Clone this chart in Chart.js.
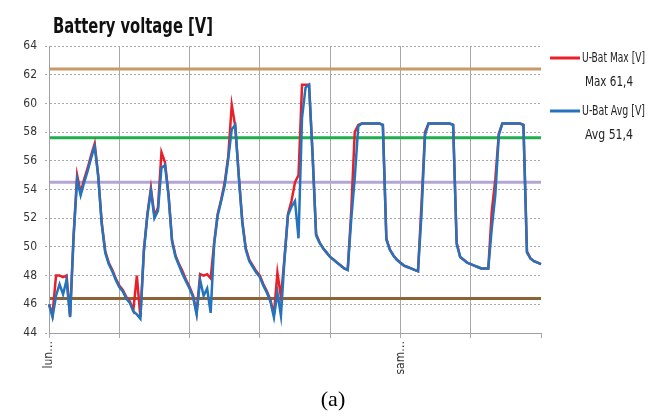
<!DOCTYPE html>
<html>
<head>
<meta charset="utf-8">
<script src="https://cdn.jsdelivr.net/npm/chart.js@4/dist/chart.umd.min.js"></script>
<style>
  html, body { margin: 0; padding: 0; background: #fff; }
  #wrap { width: 664px; height: 418px; position: relative; }
</style>
</head>
<body>
<div id="wrap"><canvas id="batteryChart"></canvas></div>
<script>
// one sample every ~1.2 h, 20 samples per day
const pointsPerDay = 20;
const dayLabels = ["lun…", "", "", "", "", "sam…", "", ""];

const maxV = [
  46.0, 45.3, 48.0, 48.0, 47.9, 48.0, 45.2, 50.8, 55.0, 53.8,
  54.7, 55.5, 56.4, 57.2, 55.0, 51.7, 49.7, 48.9, 48.4, 47.8,
  47.3, 47.0, 46.5, 46.2, 45.6, 48.0, 45.1, 49.8, 52.3, 54.1,
  52.2, 52.7, 56.6, 55.9, 53.7, 50.5, 49.4, 48.8, 48.3, 47.7,
  47.2, 46.6, 45.4, 48.1, 48.0, 48.1, 47.8, 50.3, 52.3, 53.3,
  54.5, 56.3, 59.9, 58.4, 55.0, 51.8, 49.9, 49.1, 48.7, 48.3,
  48.0, 47.4, 46.9, 46.3, 45.3, 48.2, 46.5, 49.2, 52.3, 53.2,
  54.5, 55.0, 61.3, 61.3, 61.3, 56.5, 50.9, 50.3, 49.9, 49.6,
  49.3, 49.1, 48.9, 48.7, 48.5, 48.4, 52.5, 58.0, 58.5, 58.6,
  58.6, 58.6, 58.6, 58.6, 58.6, 58.5, 50.6, 49.8, 49.4, 49.1,
  48.9, 48.7, 48.6, 48.5, 48.4, 48.3, 53.0, 58.0, 58.6, 58.6,
  58.6, 58.6, 58.6, 58.6, 58.6, 58.5, 50.3, 49.3, 49.1, 48.9,
  48.8, 48.7, 48.6, 48.5, 48.5, 48.5, 52.5, 54.7, 57.9, 58.6,
  58.6, 58.6, 58.6, 58.6, 58.6, 58.5, 49.7, 49.2, 49.0, 48.9,
  48.8
];

const avgV = [
  46.0, 45.1, 46.6, 47.4, 46.7, 47.7, 45.1, 50.7, 54.7, 53.6,
  54.5, 55.3, 56.2, 57.0, 54.9, 51.6, 49.6, 48.8, 48.3, 47.7,
  47.2, 46.9, 46.4, 46.1, 45.5, 45.3, 45.0, 49.7, 52.2, 53.9,
  52.0, 52.5, 55.5, 55.7, 53.6, 50.4, 49.3, 48.7, 48.1, 47.6,
  47.1, 46.5, 45.3, 47.7, 46.6, 47.1, 45.4, 50.2, 52.2, 53.2,
  54.3, 56.1, 58.2, 58.5, 54.9, 51.7, 49.8, 49.0, 48.6, 48.2,
  47.9, 47.3, 46.8, 46.2, 45.1, 46.8, 45.2, 49.1, 52.2, 52.8,
  53.2, 50.6, 59.0, 61.1, 61.3, 56.4, 50.8, 50.3, 49.9, 49.6,
  49.3, 49.1, 48.9, 48.7, 48.5, 48.4, 51.9, 54.8, 58.4, 58.6,
  58.6, 58.6, 58.6, 58.6, 58.6, 58.5, 50.5, 49.8, 49.4, 49.1,
  48.9, 48.7, 48.6, 48.5, 48.4, 48.3, 52.3, 57.8, 58.6, 58.6,
  58.6, 58.6, 58.6, 58.6, 58.6, 58.5, 50.2, 49.3, 49.1, 48.9,
  48.8, 48.7, 48.6, 48.5, 48.5, 48.5, 51.3, 53.6, 57.8, 58.6,
  58.6, 58.6, 58.6, 58.6, 58.6, 58.5, 49.6, 49.2, 49.0, 48.9,
  48.8
];

// horizontal limit lines
const refLevels = [62.4, 57.6, 54.5, 46.4];
const refColors = ["#c99a68", "#1fae4b", "#b3a6d4", "#8a6437"];

const seriesNames = ["U-Bat Max [V]", "U-Bat Avg [V]"];
const seriesStats = ["Max 61,4", "Avg 51,4"];

const xLabels = maxV.map((_, i) =>
  i % pointsPerDay === 0 ? dayLabels[i / pointsPerDay] || "" : ""
);

const narrow = "'Liberation Sans Narrow', 'DejaVu Sans Condensed', sans-serif";
Chart.defaults.font.family = narrow;
Chart.defaults.color = "#333";

// draw text squeezed horizontally to a given width
function fitText(ctx, text, x, y, width) {
  const w = ctx.measureText(text).width;
  ctx.save();
  ctx.translate(x, y);
  ctx.scale(width / w, 1);
  ctx.fillText(text, 0, 0);
  ctx.restore();
}

const overlay = {
  id: "overlay",
  beforeDatasetsDraw(chart) {
    const { ctx, chartArea: a, scales } = chart;
    refLevels.forEach((v, i) => {
      const py = scales.y.getPixelForValue(v);
      ctx.save();
      ctx.strokeStyle = refColors[i];
      ctx.lineWidth = 3;
      ctx.beginPath();
      ctx.moveTo(a.left + 1, py);
      ctx.lineTo(a.right, py);
      ctx.stroke();
      ctx.restore();
    });
  },
  afterDraw(chart) {
    const { ctx } = chart;
    ctx.save();
    // title
    ctx.fillStyle = "#111";
    ctx.font = "bold 21px " + narrow;
    ctx.textAlign = "left";
    ctx.textBaseline = "alphabetic";
    fitText(ctx, "Battery voltage [V]", 53, 33, 160);

    // legend
    chart.data.datasets.forEach((ds, i) => {
      const y0 = 58 + i * 53;
      ctx.strokeStyle = ds.borderColor;
      ctx.lineWidth = 3;
      ctx.beginPath();
      ctx.moveTo(550, y0);
      ctx.lineTo(580, y0);
      ctx.stroke();
      ctx.fillStyle = "#222";
      ctx.font = "14.5px " + narrow;
      ctx.textBaseline = "middle";
      fitText(ctx, ds.label, 582, y0, 63);
      fitText(ctx, seriesStats[i], 585, y0 + 24, 48);
    });

    // caption
    ctx.fillStyle = "#000";
    ctx.font = "22px 'Liberation Serif', serif";
    ctx.textAlign = "center";
    ctx.textBaseline = "middle";
    ctx.fillText("(a)", 333, 400);
    ctx.restore();
  }
};

new Chart(document.getElementById("batteryChart"), {
  type: "line",
  data: {
    labels: xLabels,
    datasets: [
      {
        label: seriesNames[0],
        data: maxV,
        borderColor: "#e8202a",
        borderWidth: 2.5,
        pointRadius: 0,
        tension: 0,
        order: 1,
      },
      {
        label: seriesNames[1],
        data: avgV,
        borderColor: "#2474bd",
        borderWidth: 2.5,
        pointRadius: 0,
        tension: 0,
        order: 0,
      },
    ],
  },
  options: {
    responsive: true,
    maintainAspectRatio: false,
    animation: false,
    layout: { padding: { top: 46, right: 123, left: 0, bottom: 0 } },
    plugins: {
      legend: { display: false },
      title: { display: false },
      tooltip: { enabled: false },
    },
    scales: {
      x: {
        type: "category",
        offset: false,
        afterFit: (s) => { s.height = 85; },
        grid: {
          color: (c) => (c.index % pointsPerDay === 0 && c.index < maxV.length - 1 ? "#a8a8a8" : "transparent"),
          tickColor: (c) => (c.index % pointsPerDay === 0 ? "#a8a8a8" : "transparent"),
          tickLength: 5,
          lineWidth: 1,
        },
        border: { display: true, color: "#a0a0a0", width: 1 },
        ticks: {
          autoSkip: false,
          minRotation: 90,
          maxRotation: 90,
          padding: 3,
          font: { size: 12 },
          color: "#333",
        },
      },
      y: {
        min: 44,
        max: 64,
        afterFit: (s) => { s.width = 49; },
        grid: {
          color: "#a8a8a8",
          tickColor: "#a8a8a8",
          tickLength: 4,
          tickBorderDash: [2, 2],
        },
        border: { display: true, color: "#a0a0a0", width: 1, dash: [2, 2] },
        ticks: {
          stepSize: 2,
          padding: 8,
          font: { size: 12 },
          color: "#333",
        },
      },
    },
  },
  plugins: [overlay],
});
</script>
</body>
</html>
